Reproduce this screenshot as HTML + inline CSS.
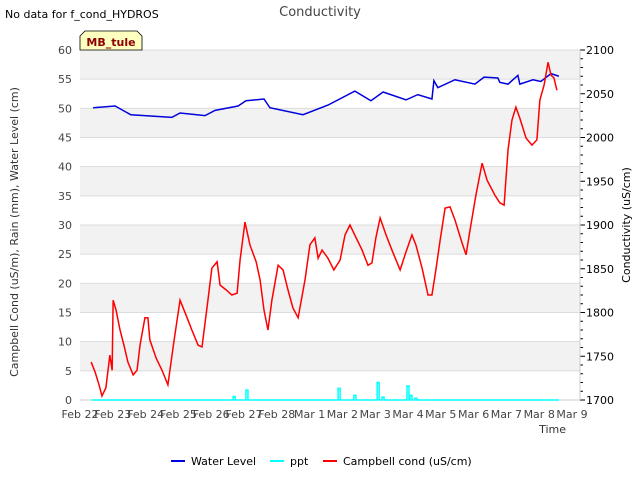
<!DOCTYPE html>
<html><head><meta charset="utf-8"><style>
body{margin:0;background:#fff;font-family:"Liberation Sans","DejaVu Sans",sans-serif;}
svg text{font-family:"DejaVu Sans","Liberation Sans",sans-serif;}
</style></head><body>
<svg id="c" width="640" height="480" xmlns="http://www.w3.org/2000/svg">
<text x="5" y="18" font-size="11" fill="#000">No data for f_cond_HYDROS</text>
<text x="320" y="16" font-size="13" fill="#444" text-anchor="middle">Conductivity</text>
<g id="plot"></g>
<text x="566" y="433" font-size="11" fill="#333" text-anchor="end">Time</text>
<text transform="translate(18,232) rotate(-90)" font-size="11" fill="#333" text-anchor="middle">Campbell Cond (uS/m), Rain (mm), Water Level (cm)</text>
<text transform="translate(630,225) rotate(-90)" font-size="11" fill="#000" text-anchor="middle">Conductivity (uS/cm)</text>
<g>
<path d="M80,50 L80,36 L85,31 L137,31 L142,36 L142,50 Z" fill="#ffffc0" stroke="#000" stroke-width="0.8"/>
<text x="111" y="46" font-size="11" font-weight="bold" fill="#8b0000" text-anchor="middle">MB_tule</text>
</g>
<g>
<g><line x1="171" y1="461" x2="185" y2="461" stroke="#0000dd" stroke-width="2"/><text x="191" y="465" font-size="11" fill="#000">Water Level</text></g>
<g><line x1="270" y1="461" x2="284" y2="461" stroke="#00ffff" stroke-width="2"/><text x="290" y="465" font-size="11" fill="#000">ppt</text></g>
<g><line x1="323" y1="461" x2="337" y2="461" stroke="#ff0000" stroke-width="2"/><text x="343" y="465" font-size="11" fill="#000">Campbell cond (uS/cm)</text></g>
</g>
</svg>
<script>
const xTickLabels=["Feb 22","Feb 23","Feb 24","Feb 25","Feb 26","Feb 27","Feb 28","Mar 1","Mar 2","Mar 3","Mar 4","Mar 5","Mar 6","Mar 7","Mar 8","Mar 9"];
const leftTicks=[0,5,10,15,20,25,30,35,40,45,50,55,60];
const rightTicks=[1700,1750,1800,1850,1900,1950,2000,2050,2100];
const wlDays=[0.40,1.07,1.55,2.80,3.05,3.81,4.12,4.82,5.06,5.61,5.79,6.80,7.56,8.38,8.87,9.24,9.94,10.30,10.73,10.79,10.91,11.43,12.04,12.32,12.74,12.80,13.05,13.35,13.41,13.81,14.05,14.36,14.60];
const wlVals=[2034,2036,2026,2023,2028,2025,2031,2036,2042,2044,2034,2026,2037,2053,2042,2052,2043,2049,2044,2065,2057,2066,2061,2069,2068,2063,2061,2071,2061,2066,2064,2073,2070];
const condDays=[0.34,0.46,0.58,0.67,0.79,0.91,0.98,1.01,1.10,1.22,1.34,1.46,1.62,1.74,1.83,1.98,2.07,2.13,2.32,2.50,2.68,2.87,3.05,3.23,3.41,3.60,3.72,3.90,4.02,4.18,4.27,4.45,4.63,4.79,4.88,5.03,5.18,5.37,5.49,5.61,5.73,5.85,6.04,6.19,6.34,6.49,6.65,6.86,7.01,7.16,7.26,7.38,7.56,7.74,7.93,8.08,8.23,8.41,8.60,8.78,8.90,9.02,9.15,9.33,9.51,9.76,9.94,10.12,10.24,10.43,10.61,10.73,10.85,10.98,11.13,11.28,11.43,11.65,11.77,11.89,12.07,12.26,12.41,12.65,12.80,12.93,13.05,13.17,13.29,13.41,13.60,13.78,13.93,14.02,14.15,14.27,14.36,14.45,14.54];
const condVals=[6.5,4.8,2.6,0.7,2.1,7.7,5.1,17.1,15.4,12.0,9.4,6.5,4.3,5.1,9.4,14.1,14.1,10.3,7.2,5.1,2.6,10.3,17.1,14.6,12.0,9.4,9.1,17.1,22.6,23.7,19.7,18.9,18.0,18.3,24.0,30.5,26.6,23.7,20.6,15.4,12.0,17.1,23.1,22.3,18.9,15.8,14.1,20.6,26.6,27.8,24.3,25.7,24.3,22.3,24.0,28.3,30.0,27.9,25.7,23.1,23.5,27.8,31.2,28.3,25.7,22.3,25.4,28.3,26.6,22.6,18.0,18.0,22.3,27.4,32.9,33.1,30.9,26.9,24.9,29.1,35.1,40.6,37.7,35.1,33.8,33.4,42.9,48.0,50.2,48.3,44.9,43.7,44.6,51.4,54.0,57.9,55.7,55.2,53.1];
const pptDays=[4.70,5.09,7.90,8.38,9.09,9.24,10.00,10.09,10.24];
const pptVals=[0.6,1.7,2.0,0.8,3.0,0.5,2.4,0.8,0.3];
const pptRange=[0.35,14.6];

const L=80,R=580,T=50,B=400,X0=80,DX=32.8;
const xs=d=>X0+d*DX;
const yl=v=>B-(v/60)*(B-T);
const yr=v=>B-((v-1700)/400)*(B-T);
const NS="http://www.w3.org/2000/svg";
const g=document.getElementById('plot');
function mk(t,a){const e=document.createElementNS(NS,t);for(const k in a)e.setAttribute(k,a[k]);g.appendChild(e);return e;}
for(let i=0;i<12;i++){
  const r=mk('rect',{x:L,y:yl(leftTicks[i+1]),width:R-L,height:yl(leftTicks[i])-yl(leftTicks[i+1]),fill:(i%2===1)?'#f2f2f2':'#ffffff'});
  
  
}
leftTicks.forEach(v=>{
  const l=mk('line',{x1:L,x2:R,y1:yl(v),y2:yl(v),stroke:'#dcdcdc','stroke-width':1});
  
  
  const t=mk('text',{x:L-8,y:yl(v)+4,'font-size':11,fill:'#444','text-anchor':'end'});
  t.textContent=v;
  
  
});
rightTicks.forEach(v=>{
  const t=mk('text',{x:R+6,y:yr(v)+4,'font-size':11,fill:'#000'});
  t.textContent=v;
  
  
});
for(let v=1700;v<=2100;v+=10){
  const l=mk('line',{x1:R,x2:R+(v%50===0?5:3),y1:yr(v),y2:yr(v),stroke:'#000','stroke-width':1});
  
  
}
const ax=mk('line',{x1:R,x2:R,y1:T,y2:B,stroke:'#ccc'});


const bx=mk('line',{x1:L,x2:R,y1:B,y2:B,stroke:'#ccc'});


xTickLabels.forEach((s,i)=>{
  const t=mk('text',{x:xs(i),y:B+18,'font-size':11,fill:'#444','text-anchor':'middle'});
  t.textContent=s;
  
  
});
// ppt
let pd='M'+xs(pptRange[0])+','+yl(0);
pptDays.forEach((d,i)=>{pd+=' L'+(xs(d)-1)+','+yl(0)+' L'+(xs(d)-1)+','+yl(pptVals[i])+' L'+(xs(d)+1)+','+yl(pptVals[i])+' L'+(xs(d)+1)+','+yl(0);});
pd+=' L'+xs(pptRange[1])+','+yl(0);
const pp=mk('path',{d:pd,fill:'none',stroke:'#00ffff','stroke-width':1.5});


const wl=mk('polyline',{points:wlDays.map((d,i)=>xs(d)+','+yr(wlVals[i])).join(' '),fill:'none',stroke:'#0000dd','stroke-width':1.5});


const cc=mk('polyline',{points:condDays.map((d,i)=>xs(d)+','+yl(condVals[i])).join(' '),fill:'none',stroke:'#ff0000','stroke-width':1.5});


</script>
</body></html>
